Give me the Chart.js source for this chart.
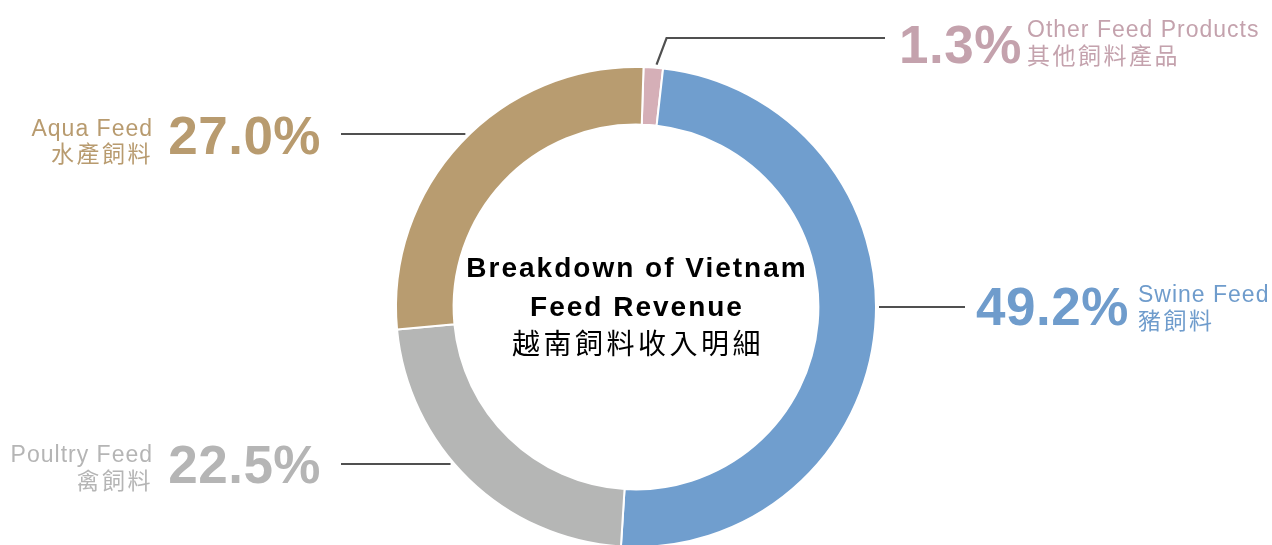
<!DOCTYPE html>
<html>
<head>
<meta charset="utf-8">
<script src="https://cdn.jsdelivr.net/npm/chart.js@4.4.1/dist/chart.umd.min.js"></script>
<style>
  html, body { margin: 0; padding: 0; background: #fff; overflow: hidden; }
  #wrap { width: 1272px; height: 548px; }
</style>
</head>
<body>
<div id="wrap"><canvas id="feedChart" width="1272" height="548"></canvas></div>
<script>
// data, clockwise from the top
const labelsEn = ['Other Feed Products', 'Swine Feed', 'Poultry Feed', 'Aqua Feed'];
const labelsZh = ['其他飼料產品', '豬飼料', '禽飼料', '水產飼料'];
const shares = [1.3, 49.2, 22.5, 27.0];

const sliceColors = ['#D5AFB7', '#709ECE', '#B5B6B5', '#B89C70'];
const textColors = ['#C4A2AD', '#6F9CCC', '#B5B5B5', '#B89B6F'];

// where each callout sits (percent text, sub labels, leader line)
const callouts = [
  { align: 'left',  pctX: 899, pctY: 63,  subX: 1027, enY: 37,  zhY: 64,  lineY: 38,  lineX: 885, elbow: true },
  { align: 'left',  pctX: 976, pctY: 325, subX: 1138, enY: 302, zhY: 329, lineY: 307, lineX: 965 },
  { align: 'right', pctX: 321, pctY: 483, subX: 153,  enY: 462, zhY: 489, lineY: 464, lineX: 341 },
  { align: 'right', pctX: 321, pctY: 154, subX: 153,  enY: 136, zhY: 162, lineY: 134, lineX: 341 },
];

const calloutPlugin = {
  id: 'callouts',
  afterDraw(chart) {
    const ctx = chart.ctx;
    const arcs = chart.getDatasetMeta(0).data;
    ctx.save();
    arcs.forEach((arc, i) => {
      const p = arc.getProps(['x', 'y', 'startAngle', 'endAngle', 'outerRadius'], true);
      const c = callouts[i];
      const R = p.outerRadius + 3;

      // leader line
      ctx.strokeStyle = '#505050';
      ctx.lineWidth = 2.2;
      ctx.beginPath();
      if (c.elbow) {
        const mid = (p.startAngle + p.endAngle) / 2;
        const sx = p.x + Math.cos(mid) * R + 3;
        const sy = p.y + Math.sin(mid) * R;
        ctx.moveTo(sx, sy);
        ctx.lineTo(sx + 10, c.lineY);
        ctx.lineTo(c.lineX, c.lineY);
      } else {
        const dy = c.lineY - p.y;
        const dx = Math.sqrt(Math.max(0, R * R - dy * dy));
        const side = c.lineX > p.x ? 1 : -1;
        ctx.moveTo(p.x + side * dx, c.lineY);
        ctx.lineTo(c.lineX, c.lineY);
      }
      ctx.stroke();

      // percentage
      ctx.fillStyle = textColors[i];
      ctx.textAlign = c.align;
      ctx.textBaseline = 'alphabetic';
      ctx.font = 'bold 53px "Liberation Sans", Arial, sans-serif';
      ctx.letterSpacing = '0.5px';
      ctx.fillText(shares[i].toFixed(1) + '%', c.pctX, c.pctY);

      // sub labels
      ctx.font = '23px "Liberation Sans", Arial, sans-serif';
      ctx.letterSpacing = '1px';
      ctx.fillText(labelsEn[i], c.subX, c.enY);
      ctx.font = '23px "Noto Sans CJK TC", sans-serif';
      ctx.letterSpacing = '2.5px';
      ctx.fillText(labelsZh[i], c.subX, c.zhY);
    });

    // centre title
    const cx = arcs[0].x;
    ctx.fillStyle = '#000000';
    ctx.textAlign = 'center';
    ctx.font = 'bold 28px "Liberation Sans", Arial, sans-serif';
    ctx.letterSpacing = '2px';
    ctx.fillText('Breakdown of Vietnam', cx + 1, 277);
    ctx.fillText('Feed Revenue', cx + 1, 316);
    ctx.font = '28px "Noto Sans CJK TC", sans-serif';
    ctx.letterSpacing = '3.5px';
    ctx.fillText('越南飼料收入明細', cx + 2, 354);
    ctx.restore();
  }
};

new Chart(document.getElementById('feedChart').getContext('2d'), {
  type: 'doughnut',
  data: {
    labels: labelsEn,
    datasets: [{
      data: shares,
      backgroundColor: sliceColors,
      borderColor: '#ffffff',
      borderWidth: 2,
    }],
  },
  options: {
    responsive: false,
    animation: false,
    cutout: '76%',
    rotation: 1.8,
    layout: { padding: { top: 66, bottom: 0 } },
    plugins: {
      legend: { display: false },
      tooltip: { enabled: false },
    },
  },
  plugins: [calloutPlugin],
});
</script>
</body>
</html>
